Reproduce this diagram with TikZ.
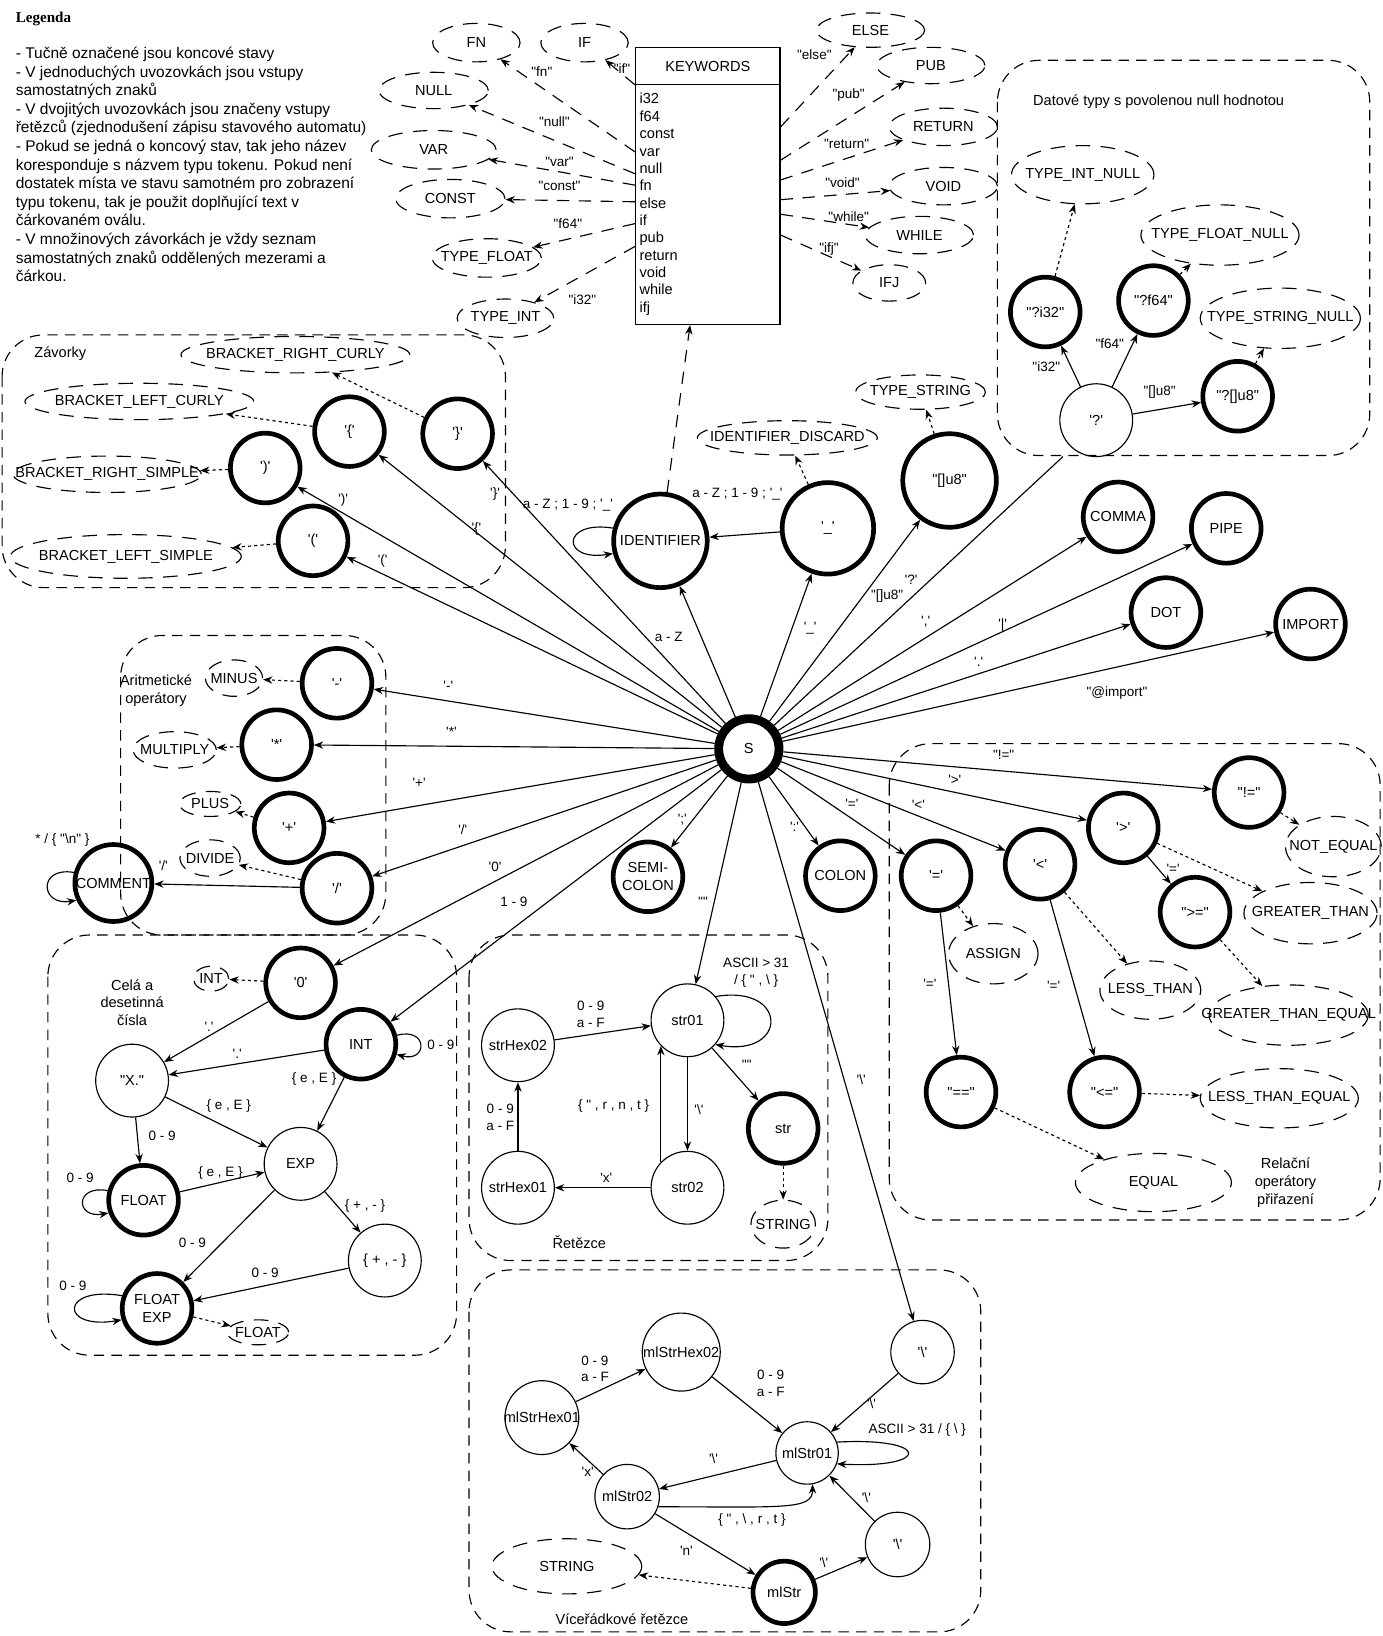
\documentclass[tikz,border=0pt]{standalone}
\usepackage{fontspec}
\setmainfont{Liberation Sans}[Ligatures=TeXOff]
\newfontfamily\legfont{Liberation Serif}
\usetikzlibrary{arrows.meta,shapes.geometric}
\newcommand{\tok}[1]{\makebox[0pt]{#1}}
\newcommand{\bsl}{\textbackslash}

\begin{document}
\begin{tikzpicture}[x=1pt, y=-1pt,
  >={Stealth[length=9pt,width=7pt]},
  st/.style={circle, draw, line width=1.1pt, minimum size=70pt, inner sep=0pt, align=center, font=\fontsize{14}{17}\selectfont},
  fin/.style={st, line width=4.5pt, minimum size=67pt},
  tk/.style 2 args={ellipse, draw, line width=1.1pt, dash pattern=on 14pt off 10pt, inner sep=0pt, minimum width=#1pt, minimum height=#2pt, font=\fontsize{14}{17}\selectfont},
  grp/.style={draw, line width=1.1pt, dash pattern=on 10pt off 7pt, rounded corners=40pt},
  txt/.style={inner sep=0pt, align=center, font=\fontsize{14}{17}\selectfont},
  lbl/.style={inner sep=0pt, align=center, font=\fontsize{13}{16}\selectfont},
  tr/.style={->, line width=1.1pt},
  tokarr/.style={->, line width=1.1pt, dash pattern=on 3pt off 3pt},
  kwa/.style={->, line width=1.1pt, dash pattern=on 12pt off 9pt}]
\useasboundingbox (0,0) rectangle (1329,1573);

% legend
\node[anchor=west, inner sep=0pt, font={\legfont\bfseries\fontsize{14.5}{17}\selectfont}] (legT) at (15,18) {Legenda};
\node[anchor=north west, inner sep=0pt, align=left, font=\fontsize{14.9}{17.9}\selectfont] (leg) at (15,45) {- Tučně označené jsou koncové stavy\\- V jednoduchých uvozovkách jsou vstupy\\samostatných znaků\\- V dvojitých uvozovkách jsou značeny vstupy\\řetězců (zjednodušení zápisu stavového automatu)\\- Pokud se jedná o koncový stav, tak jeho název\\koresponduje s názvem typu tokenu. Pokud není\\dostatek místa ve stavu samotném pro zobrazení\\typu tokenu, tak je použit doplňující text v\\čárkovaném oválu.\\- V množinových závorkách je vždy seznam\\samostatných znaků oddělených mezerami a\\čárkou.};

% groups
\draw[grp] (2,322) rectangle (486,565);
\draw[grp] (959,58) rectangle (1317,438);
\draw[grp] (116,611) rectangle (371,899);
\draw[grp] (855,715) rectangle (1327,1173);
\draw[grp] (46,899) rectangle (439,1303);
\draw[grp] (451,899) rectangle (796,1212);
\draw[grp] (451,1221) rectangle (943,1569);
\node[txt] (gBr) at (58,340) {Závorky};
\node[txt] (gNull) at (1114,98) {Datové typy s povolenou null hodnotou};
\node[txt] (gAr) at (150,664) {Aritmetické\\operátory};
\node[txt] (gRel) at (1236,1137) {Relační\\operátory\\přiřazení};
\node[txt] (gNum) at (127,964) {Celá a\\desetinná\\čísla};
\node[txt] (gStr) at (557,1194) {Řetězce};
\node[txt] (gMl) at (598,1557) {Víceřádkové řetězce};

% keywords
\node[draw, line width=1.1pt, minimum width=139pt, minimum height=35pt, txt] (kw) at (680.5,63.5) {KEYWORDS};
\node[draw, line width=1.1pt, minimum width=139pt, minimum height=231pt, text width=131pt, inner sep=4pt, align=left, font=\fontsize{14}{16.7}\selectfont] (kwl) at (680.5,196.5) {i32\\f64\\const\\var\\null\\fn\\else\\if\\pub\\return\\void\\while\\ifj};
\node[tk={84}{37}] (tFN) at (458,41) {\tok{FN}};
\node[tk={84}{37}] (tIF) at (562,41) {\tok{IF}};
\node[tk={105}{35}] (tNULL) at (417,87) {\tok{NULL}};
\node[tk={120}{37}] (tVAR) at (417,144) {\tok{VAR}};
\node[tk={105}{37}] (tCONST) at (433,191) {\tok{CONST}};
\node[tk={105}{37}] (tTF) at (468,248) {\tok{TYPE\_FLOAT}};
\node[tk={93}{37}] (tTI) at (486,306) {\tok{TYPE\_INT}};
\node[tk={104}{33}] (tELSE) at (837,29) {\tok{ELSE}};
\node[tk={104}{35}] (tPUB) at (895,63) {\tok{PUB}};
\node[tk={104}{36}] (tRET) at (907,122) {\tok{RETURN}};
\node[tk={104}{36}] (tVOID) at (907,179) {\tok{VOID}};
\node[tk={104}{36}] (tWHILE) at (884,226) {\tok{WHILE}};
\node[tk={70}{35}] (tIFJ) at (855,272) {\tok{IFJ}};

% start state
\node[circle, draw, line width=8.5pt, minimum size=58pt, inner sep=0pt, font=\fontsize{14}{17}\selectfont] (S) at (720,720) {S};

% brackets
\node[fin] (cR) at (440,417) {'\}'};
\node[fin] (cL) at (336,415) {'\{'};
\node[fin] (pR) at (255,450) {')'};
\node[fin] (pL) at (301,520) {'('};
\node[tk={220}{35}] (tBRC) at (284,341) {\tok{BRACKET\_RIGHT\_CURLY}};
\node[tk={220}{35}] (tBLC) at (134,386) {\tok{BRACKET\_LEFT\_CURLY}};
\node[tk={181}{35}] (tBRS) at (103,456) {\tok{BRACKET\_RIGHT\_SIMPLE}};
\node[tk={222}{42}] (tBLS) at (121,535) {\tok{BRACKET\_LEFT\_SIMPLE}};

% identifiers, strings
\node[fin, minimum size=90pt] (id) at (635,520) {IDENTIFIER};
\node[fin, minimum size=88pt] (us) at (796,508) {'\_'};
\node[fin, minimum size=90pt] (u8) at (913,462) {"[]u8"};
\node[tk={173}{33}] (tID) at (757,421) {\tok{IDENTIFIER\_DISCARD}};
\node[tk={125}{33}] (tTS) at (885,377) {\tok{TYPE\_STRING}};

% nullable types
\node[st] (q) at (1054,404) {'?'};
\node[fin] (qi) at (1005,300) {"?i32"};
\node[fin] (qf) at (1109,289) {"?f64"};
\node[fin] (qu) at (1190,381) {"?[]u8"};
\node[tk={137}{56}] (tTIN) at (1041,168) {\tok{TYPE\_INT\_NULL}};
\node[tk={152}{58}] (tTFN) at (1173,226) {\tok{TYPE\_FLOAT\_NULL}};
\node[tk={154}{58}] (tTSN) at (1231,306) {\tok{TYPE\_STRING\_NULL}};
\coordinate (qin) at (1022,439);

% separators
\node[fin] (comma) at (1075,497) {COMMA};
\node[fin] (pipe) at (1179,508) {PIPE};
\node[fin] (dot) at (1121,589) {DOT};
\node[fin] (imp) at (1260,600) {IMPORT};
\node[fin] (semi) at (623,843) {SEMI-\\COLON};
\node[fin] (colon) at (808,842) {COLON};

% arithmetic
\node[fin] (mi) at (324,657) {'-'};
\node[fin] (mu) at (266,716) {'*'};
\node[fin] (pl) at (278,796) {'+'};
\node[fin] (dv) at (324,854) {'/'};
\node[fin, minimum size=74pt] (com) at (109,849) {COMMENT};
\node[tk={55}{35}] (tMI) at (225,652) {\tok{MINUS}};
\node[tk={80}{35}] (tMU) at (168,721) {\tok{MULTIPLY}};
\node[tk={59}{24}] (tPL) at (202,773) {\tok{PLUS}};
\node[tk={58}{35}] (tDV) at (202,825) {\tok{DIVIDE}};

% relations
\node[fin] (ne) at (1201,762) {"!="};
\node[fin] (gt) at (1080,796) {'>'};
\node[fin] (lt) at (1000,831) {'<'};
\node[fin] (as) at (900,842) {'='};
\node[fin] (ge) at (1149,877) {">="};
\node[fin] (eq) at (924,1050) {"=="};
\node[fin] (le) at (1062,1050) {"<="};
\node[tk={92}{58}] (tNE) at (1282,814) {\tok{NOT\_EQUAL}};
\node[tk={128}{59}] (tGT) at (1260,878) {\tok{GREATER\_THAN}};
\node[tk={153}{58}] (tGE) at (1239,976) {\tok{GREATER\_THAN\_EQUAL}};
\node[tk={86}{58}] (tAS) at (955,917) {\tok{ASSIGN}};
\node[tk={97}{56}] (tLT) at (1106,952) {\tok{LESS\_THAN}};
\node[tk={152}{57}] (tLE) at (1230,1056) {\tok{LESS\_THAN\_EQUAL}};
\node[tk={150}{56}] (tEQ) at (1109,1137) {\tok{EQUAL}};

% numbers
\node[fin] (zero) at (289,945) {'0'};
\node[fin] (int) at (347,1004) {INT};
\node[st] (xd) at (127,1039) {"X."};
\node[st] (exp) at (289,1119) {EXP};
\node[fin] (fl) at (138,1154) {FLOAT};
\node[st] (sg) at (370,1212) {\{ + , - \}};
\node[fin] (fe) at (151,1258) {FLOAT\\EXP};
\node[tk={34}{24}] (tINT) at (203,941) {\tok{INT}};
\node[tk={59}{24}] (tFL) at (248,1281) {\tok{FLOAT}};

% strings
\node[st] (s01) at (661,981) {str01};
\node[st] (sh2) at (498,1005) {strHex02};
\node[st] (sh1) at (498,1142) {strHex01};
\node[st] (s02) at (661,1142) {str02};
\node[fin] (str) at (753,1085) {str};
\node[tk={62}{46}] (tSTR) at (753,1177) {\tok{STRING}};

% multiline strings
\node[st, minimum size=61pt] (bs1) at (887,1300) {'\bsl'};
\node[st, minimum size=75pt] (mh2) at (655,1300) {\tok{mlStrHex02}};
\node[st, minimum size=71pt] (mh1) at (521,1363) {\tok{mlStrHex01}};
\node[st, minimum size=60pt] (m1) at (776,1397) {mlStr01};
\node[st, minimum size=62pt] (m2) at (603,1439) {mlStr02};
\node[st, minimum size=62pt] (bs2) at (863,1485) {'\bsl'};
\node[fin, minimum size=60pt] (ml) at (754,1531) {mlStr};
\node[tk={144}{53}] (tMS) at (545,1506) {\tok{STRING}};

% keyword arrows
\draw[kwa] (kw.south west) -- (tIF);
\draw[kwa] ([yshift=50.5pt]kwl.west) -- (tFN);
\draw[kwa] ([yshift=29.5pt]kwl.west) -- (tNULL);
\draw[kwa] ([yshift=18.5pt]kwl.west) -- (tVAR);
\draw[kwa] ([yshift=2.5pt]kwl.west) -- (tCONST);
\draw[kwa] ([yshift=-18.5pt]kwl.west) -- (tTF);
\draw[kwa] ([yshift=-40.5pt]kwl.west) -- (tTI);
\draw[kwa] ([yshift=74.5pt]kwl.east) -- (tELSE);
\draw[kwa] ([yshift=42.5pt]kwl.east) -- (tPUB);
\draw[kwa] ([yshift=23.5pt]kwl.east) -- (tRET);
\draw[kwa] ([yshift=4.5pt]kwl.east) -- (tVOID);
\draw[kwa] ([yshift=-9.5pt]kwl.east) -- (tWHILE);
\draw[kwa] ([yshift=-29.5pt]kwl.east) -- (tIFJ);
\draw[kwa] (id) -- ([xshift=-17pt]kwl.south);
\node[lbl] (lFn) at (521,69) {"fn"};
\node[lbl] (lIf) at (598,66) {"if"};
\node[lbl] (lNull) at (533,117) {"null"};
\node[lbl] (lVar) at (538,156) {"var"};
\node[lbl] (lConst) at (538,179) {"const"};
\node[lbl] (lF64) at (546,215) {"f64"};
\node[lbl] (lI32) at (560,288) {"i32"};
\node[lbl] (lElse) at (783,53) {"else"};
\node[lbl] (lPub) at (816,91) {"pub"};
\node[lbl] (lRet) at (814,138) {"return"};
\node[lbl] (lVoid) at (810,176) {"void"};
\node[lbl] (lWhile) at (816,208) {"while"};
\node[lbl] (lIfj) at (797,239) {"ifj"};

% transitions from S
\draw[tr] (S) -- (cR);
\draw[tr] (S) -- (cL);
\draw[tr] (S) -- (pR);
\draw[tr] (S) -- (pL);
\draw[tr] (S) -- (id);
\draw[tr] (S) -- (us);
\draw[tr] (S) -- (u8);
\draw[line width=1.1pt] (S) -- (qin);
\draw[tr] (S) -- (comma);
\draw[tr] (S) -- (pipe);
\draw[tr] (S) -- (dot);
\draw[tr] (S) -- (imp);
\draw[tr] (S) -- (mi);
\draw[tr] (S) -- (mu);
\draw[tr] (S) -- (pl);
\draw[tr] (S) -- (dv);
\draw[tr] (S) -- (semi);
\draw[tr] (S) -- (colon);
\draw[tr] (S) -- (as);
\draw[tr] (S) -- (lt);
\draw[tr] (S) -- (gt);
\draw[tr] (S) -- (ne);
\draw[tr] (S) -- (zero);
\draw[tr] (S) -- (int);
\draw[tr] (S) -- (s01);
\draw[tr] (S) -- (bs1);
\node[lbl] (lcR) at (476,475) {'\}'};
\node[lbl] (lcL) at (458,509) {'\{'};
\node[lbl] (lpR) at (330,481) {')'};
\node[lbl] (lpL) at (368,539) {'('};
\node[lbl] (lId) at (643,612) {a - Z};
\node[lbl] (lUs) at (779,604) {'\_'};
\node[lbl] (lQ) at (876,557) {'?'};
\node[lbl] (lU8) at (853,573) {"[]u8"};
\node[lbl] (lComma) at (890,598) {','};
\node[lbl] (lPipe) at (964,601) {'|'};
\node[lbl] (lDot) at (941,636) {'.'};
\node[lbl] (lImp) at (1074,666) {"@import"};
\node[lbl] (lMi) at (431,659) {'-'};
\node[lbl] (lMu) at (434,704) {'*'};
\node[lbl] (lPl) at (403,753) {'+'};
\node[lbl] (lDv) at (445,798) {'/'};
\node[lbl] (lSemi) at (656,788) {';'};
\node[lbl] (lColon) at (764,795) {':'};
\node[lbl] (lAs) at (819,773) {'='};
\node[lbl] (lLt) at (883,774) {'<'};
\node[lbl] (lGt) at (918,750) {'>'};
\node[lbl] (lNe) at (965,726) {"!="};
\node[lbl] (lZero) at (476,833) {'0'};
\node[lbl] (lInt) at (494,867) {1 - 9};
\node[lbl] (lStr) at (676,867) {'"'};
\node[lbl] (lBs) at (828,1038) {'\bsl'};

% identifiers
\draw[tr] (us) -- (id);
\draw[tr] (id.165) .. controls +(-50,-8) and +(-50,8) .. (id.195);
\draw[tokarr] (us) -- (tID);
\draw[tokarr] (u8) -- (tTS);
\node[lbl] (lIdLoop) at (546,486) {a - Z ; 1 - 9 ; '\_'};
\node[lbl] (lUsId) at (709,475) {a - Z ; 1 - 9 ; '\_'};

% brackets out
\draw[tokarr] (cR) -- (tBRC);
\draw[tokarr] (cL) -- (tBLC);
\draw[tokarr] (pR) -- (tBRS);
\draw[tokarr] (pL) -- (tBLS);

% nullable
\draw[tr] (q) -- (qi);
\draw[tr] (q) -- (qf);
\draw[tr] (q) -- (qu);
\draw[tokarr] (qi) -- (tTIN);
\draw[tokarr] (qf) -- (tTFN);
\draw[tokarr] (qu) -- (tTSN);
\node[lbl] (lQi) at (1006,353) {"i32"};
\node[lbl] (lQf) at (1067,330) {"f64"};
\node[lbl] (lQu) at (1115,377) {"[]u8"};

% arithmetic
\draw[tokarr] (mi) -- (tMI);
\draw[tokarr] (mu) -- (tMU);
\draw[tokarr] (pl) -- (tPL);
\draw[tokarr] (dv) -- (tDV);
\draw[tr] (dv) -- (com);
\draw[tr] (com.165) .. controls +(-35,-6) and +(-35,6) .. (com.205);
\node[lbl] (lCom) at (157,832) {'/'};
\node[lbl] (lComLoop) at (60,808) {* / \{ "\bsl n" \}};

% relations
\draw[tr] (gt) -- (ge);
\draw[tr] (as) -- (eq);
\draw[tr] (lt) -- (le);
\draw[tokarr] (ne) -- (tNE);
\draw[tokarr] (gt) -- (tGT);
\draw[tokarr] (ge) -- (tGE);
\draw[tokarr] (as) -- (tAS);
\draw[tokarr] (lt) -- (tLT);
\draw[tokarr] (le) -- (tLE);
\draw[tokarr] (eq) -- (tEQ);
\node[lbl] (lGe) at (1128,835) {'='};
\node[lbl] (lEq) at (894,946) {'='};
\node[lbl] (lLe) at (1013,948) {'='};

% numbers
\draw[tokarr] (zero) -- (tINT);
\draw[tr] (zero) -- (xd);
\draw[tr] (int) -- (xd);
\draw[tr] (int.14) .. controls +(30,-8) and +(30,8) .. (int.-16);
\draw[tr] (int) -- (exp);
\draw[tr] (xd) -- (exp);
\draw[tr] (xd) -- (fl);
\draw[tr] (fl) -- (exp);
\draw[tr] (fl.165) .. controls +(-32,-6) and +(-32,6) .. (fl.200);
\draw[tr] (exp) -- (sg);
\draw[tr] (exp) -- (fe);
\draw[tr] (sg) -- (fe);
\draw[tr] (fe.160) .. controls +(-60,-10) and +(-60,10) .. (fe.198);
\draw[tokarr] (fe) -- (tFL);
\node[lbl] (lZx) at (201,987) {'.'};
\node[lbl] (lIx) at (228,1013) {'.'};
\node[lbl] (lIntLoop) at (424,1005) {0 - 9};
\node[lbl] (lIe) at (302,1037) {\{ e , E \}};
\node[lbl] (lXe) at (220,1063) {\{ e , E \}};
\node[lbl] (lXf) at (156,1092) {0 - 9};
\node[lbl] (lFe) at (212,1128) {\{ e , E \}};
\node[lbl] (lFlLoop) at (77,1132) {0 - 9};
\node[lbl] (lEs) at (351,1160) {\{ + , - \}};
\node[lbl] (lEfe) at (185,1195) {0 - 9};
\node[lbl] (lSfe) at (255,1224) {0 - 9};
\node[lbl] (lFeLoop) at (70,1236) {0 - 9};

% strings
\draw[tr] (sh2) -- (s01);
\draw[tr] (sh1) -- (sh2);
\draw[tr] (s02) -- (sh1);
\draw[tr] (s01) -- (s02);
\draw[tr] (s02.136) -- (s01.224);
\draw[tr] (s01) -- (str);
\draw[tr] (s01.40) .. controls +(70,-12) and +(70,12) .. (s01.-41);
\draw[tokarr] (str) -- (tSTR);
\node[lbl] (lS01Loop) at (727,935) {ASCII > 31\\/ \{ " , \bsl\ \}};
\node[lbl] (lHex2) at (568,975) {0 - 9\\a - F};
\node[lbl] (lHex1) at (481,1074) {0 - 9\\a - F};
\node[lbl] (lEsc) at (590,1063) {\{ " , r , n , t \}};
\node[lbl] (lBsl) at (672,1067) {'\bsl'};
\node[lbl] (lQuote) at (718,1024) {'"'};
\node[lbl] (lX) at (583,1132) {'x'};

% multiline strings
\draw[tr] (bs1) -- (m1);
\draw[tr] (mh1) -- (mh2);
\draw[tr] (mh2) -- (m1);
\draw[tr] (m1.20) .. controls +(91,-5) and +(91,5) .. (m1.-20);
\draw[tr] (m1) -- (m2);
\draw[tr] (m2) -- (mh1);
\draw[tr] (m2.-18) .. controls +(120,0) and +(0,25) .. (m1.-80);
\draw[tr] (m2) -- (ml);
\draw[tr] (ml) -- (bs2);
\draw[tr] (bs2) -- (m1);
\draw[tokarr] (ml) -- (tMS);
\node[lbl] (lMh2) at (572,1316) {0 - 9\\a - F};
\node[lbl] (lMh1) at (741,1330) {0 - 9\\a - F};
\node[lbl] (lBs1) at (838,1350) {'\bsl'};
\node[lbl] (lM1Loop) at (882,1375) {ASCII > 31 / \{ \bsl\ \}};
\node[lbl] (lM12) at (686,1402) {'\bsl'};
\node[lbl] (lMx) at (565,1415) {'x'};
\node[lbl] (lMesc) at (723,1461) {\{ " , \bsl\ , r , t \}};
\node[lbl] (lBs2) at (833,1440) {'\bsl'};
\node[lbl] (lMn) at (660,1491) {'n'};
\node[lbl] (lMlBs) at (792,1502) {'\bsl'};
\end{tikzpicture}
\end{document}
